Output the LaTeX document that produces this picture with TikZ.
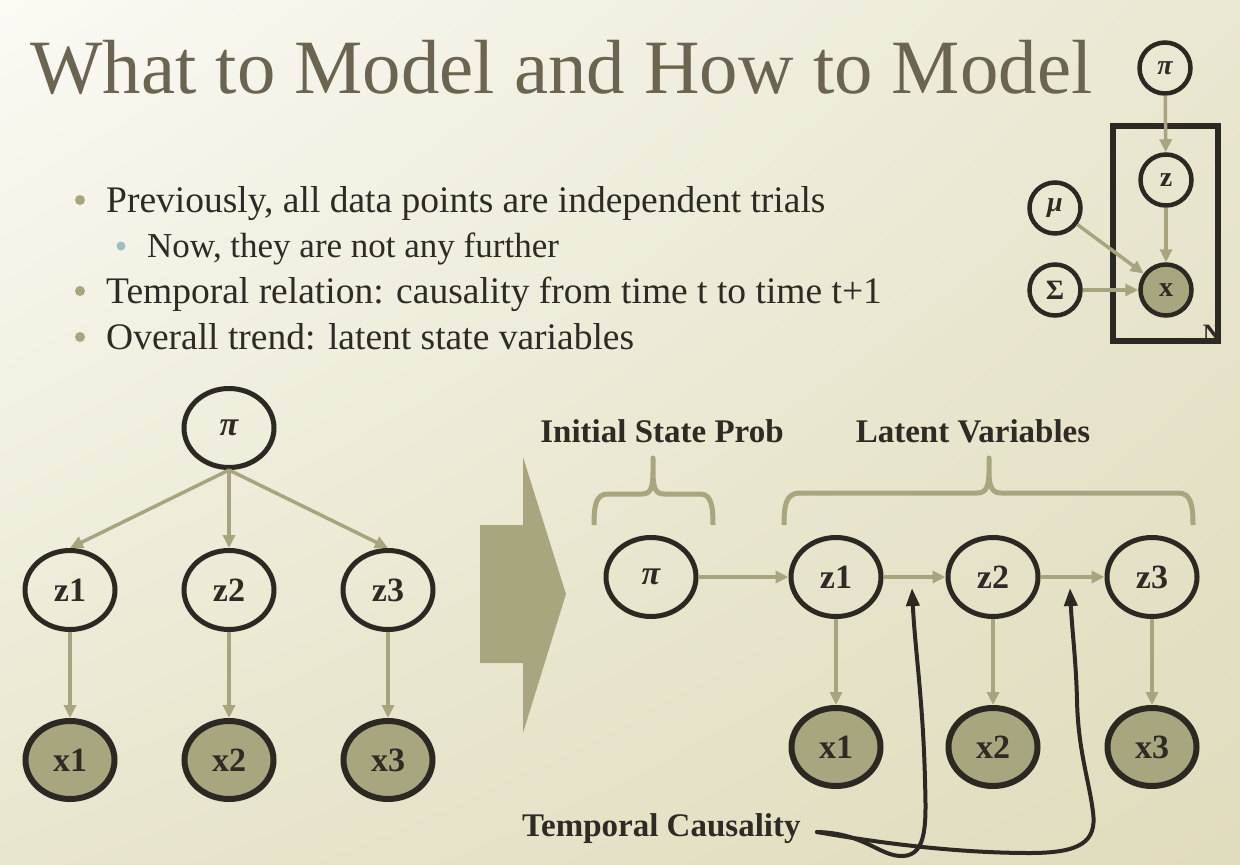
\documentclass[tikz,border=0pt]{standalone}
\usepackage{fontspec}
\setmainfont{Liberation Serif}
\usetikzlibrary{shapes.geometric,arrows.meta,shadings}
\definecolor{olivefill}{HTML}{A8A67E}
\definecolor{arrowc}{HTML}{A7A580}
\definecolor{nodeborder}{HTML}{2C2922}
\definecolor{titlec}{HTML}{6A6450}
\definecolor{txt}{HTML}{2E2A24}
\definecolor{subdot}{HTML}{9FBDC2}
\definecolor{bgUL}{HTML}{FBFAF4}
\definecolor{bgUR}{HTML}{EAE7D2}
\definecolor{bgLL}{HTML}{E9E6CE}
\definecolor{bgLR}{HTML}{E0DCBD}
\begin{document}
\begin{tikzpicture}[x=1pt,y=-1pt,
  lat/.style={ellipse, draw=nodeborder, line width=5pt, minimum width=90pt, minimum height=79pt, inner sep=0pt, text=txt, font=\fontsize{34}{34}\selectfont\bfseries},
  obs/.style={lat, fill=olivefill, line width=6pt, minimum width=89pt, minimum height=78pt},
  plat/.style={circle, draw=nodeborder, line width=4.5pt, minimum size=51pt, inner sep=0pt, text=txt, font=\fontsize{28}{28}\selectfont\bfseries},
  pobs/.style={plat, fill=olivefill},
  edge/.style={draw=arrowc, line width=3.5pt, -{Triangle[length=13pt,width=12pt]}},
  tca/.style={draw=nodeborder, line width=4pt, line cap=round, -{Triangle[length=18pt,width=13pt]}},
  bracec/.style={draw=olivefill, line width=5pt, line join=round},
  bul/.style={anchor=base west, inner sep=0pt, text=txt, font=\fontsize{37.5}{38}\selectfont},
  subbul/.style={bul, font=\fontsize{35}{36}\selectfont},
  dot/.style={circle, fill=olivefill, inner sep=0pt, minimum size=10pt},
  subdotst/.style={circle, fill=subdot, inner sep=0pt, minimum size=9pt},
  lab/.style={anchor=base, inner sep=0pt, text=txt, font=\fontsize{33}{33}\selectfont\bfseries}
]
\useasboundingbox (0,0) rectangle (1240,865);
\shade[upper left=bgUL, upper right=bgUR, lower left=bgLL, lower right=bgLR] (0,0) rectangle (1240,865);

% title
\node[anchor=base west, inner sep=0pt, text=titlec, font=\fontsize{76.8}{80}\selectfont] (title) at (30,93) {What to Model and How to Model};

% bullets
\node[dot] (d1) at (80,200) {};
\node[bul] (b1) at (106,212) {Previously, all data points are independent trials};
\node[subdotst] (d2) at (121,246) {};
\node[subbul] (b2) at (147,257) {Now, they are not any further};
\node[dot] (d3) at (80,291) {};
\node[bul] (b3) at (106,303) {Temporal relation: causality from time t to time t+1};
\node[dot] (d4) at (80,337) {};
\node[bul] (b4) at (106,349) {Overall trend: latent state variables};

% plate model (top right)
\draw[draw=nodeborder, line width=6pt] (1113,126) rectangle (1218,341);
\node[plat] (ppi) at (1165,68) {\itshape π};
\node[plat] (pz) at (1166,180) {z};
\node[plat] (pmu) at (1055,208) {\itshape μ};
\node[plat] (psig) at (1055,290) {Σ};
\node[pobs] (px) at (1166,290) {x};
\node[inner sep=0pt, text=txt, font=\fontsize{25}{25}\selectfont\bfseries] (pN) at (1212,333) {N};
\draw[edge] (ppi) -- (pz);
\draw[edge] (pz) -- (px);
\draw[edge] (pmu) -- (px);
\draw[edge] (psig) -- (px);

% left graph
\node[lat] (lpi) at (229,428) {\itshape π};
\node[lat] (lz1) at (70,590) {z1};
\node[lat] (lz2) at (229,590) {z2};
\node[lat] (lz3) at (388,590) {z3};
\node[obs] (lx1) at (70,760) {x1};
\node[obs] (lx2) at (229,760) {x2};
\node[obs] (lx3) at (388,760) {x3};
\draw[edge] (lpi.south) -- (lz1.north);
\draw[edge] (lpi.south) -- (lz2.north);
\draw[edge] (lpi.south) -- (lz3.north);
\draw[edge] (lz1) -- (lx1);
\draw[edge] (lz2) -- (lx2);
\draw[edge] (lz3) -- (lx3);

% big arrow
\fill[olivefill] (480,525) -- (523,525) -- (523,457) -- (566,594) -- (523,733) -- (523,663) -- (480,663) -- cycle;

% right graph
\node[lat] (rpi) at (651,577) {\itshape π};
\node[lat] (rz1) at (836,577) {z1};
\node[lat] (rz2) at (993,577) {z2};
\node[lat] (rz3) at (1152,577) {z3};
\node[obs] (rx1) at (836,747) {x1};
\node[obs] (rx2) at (993,747) {x2};
\node[obs] (rx3) at (1152,747) {x3};
\draw[edge] (rpi) -- (rz1);
\draw[edge] (rz1) -- (rz2);
\draw[edge] (rz2) -- (rz3);
\draw[edge] (rz1) -- (rx1);
\draw[edge] (rz2) -- (rx2);
\draw[edge] (rz3) -- (rx3);

% braces and labels
\node[lab] (linit) at (662,442) {Initial State Prob};
\node[lab] (llat) at (973,442) {Latent Variables};
\draw[bracec] (594,525) .. controls (594,505) and (596,494) .. (608,494) -- (642,494)
  .. controls (650,494) and (653,489) .. (653,472) -- (653,458) -- (653,472)
  .. controls (653,489) and (656,494) .. (664,494) -- (700,494)
  .. controls (711,494) and (713,505) .. (713,525);
\draw[bracec] (784,525) .. controls (784,505) and (786,493) .. (800,493) -- (977,493)
  .. controls (985,493) and (989,488) .. (989,472) -- (989,458) -- (989,472)
  .. controls (989,488) and (993,493) .. (1001,493) -- (1178,493)
  .. controls (1191,493) and (1193,505) .. (1193,525);

% temporal causality
\node[anchor=base west, inner sep=0pt, text=txt, font=\fontsize{33}{33}\selectfont\bfseries] (ltc) at (522,836) {Temporal Causality};
\coordinate (tcs) at (817,832);
\coordinate (tc1) at (912,588);
\coordinate (tc2) at (1070,588);
\draw[tca] (tcs) .. controls (865,833) and (880,857) .. (903,856)
  .. controls (928,855) and (926,820) .. (925,780)
  .. controls (923,700) and (915,650) .. (tc1);
\draw[tca] (tcs) .. controls (885,844) and (960,853) .. (1030,853)
  .. controls (1080,853) and (1097,842) .. (1093,812)
  .. controls (1089,780) and (1078,750) .. (1077,700)
  .. controls (1076,660) and (1072,630) .. (tc2);
\end{tikzpicture}
\end{document}
